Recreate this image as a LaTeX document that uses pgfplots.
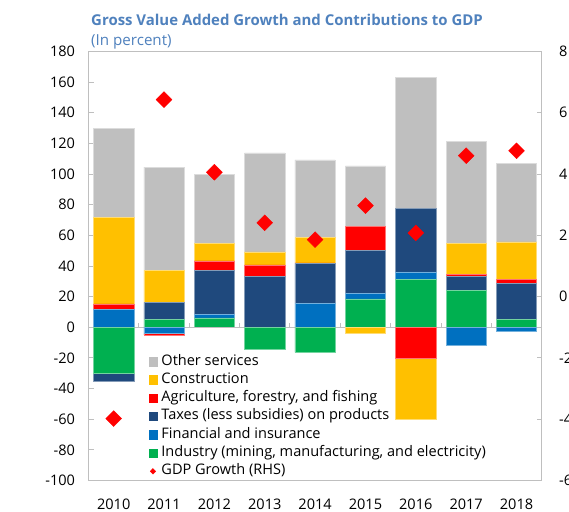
\documentclass[border=0pt]{standalone}
\usepackage{pgfplots}
\pgfplotsset{compat=1.18}
\usepackage{pgfplotstable}
\usepackage{fontspec}
\setmainfont{Open Sans}

\definecolor{cOther}{RGB}{191,191,191}
\definecolor{cCons}{RGB}{255,192,0}
\definecolor{cAgri}{RGB}{255,0,0}
\definecolor{cTax}{RGB}{31,73,125}
\definecolor{cFin}{RGB}{0,112,192}
\definecolor{cInd}{RGB}{0,176,80}
\definecolor{cTitle}{RGB}{79,129,189}
\definecolor{cAxis}{RGB}{191,191,191}

\pgfplotstableread{
x ind fin tax agri cons oth
0 0 11.6 0 3.7 56.4 58.3
1 5.1 0 11.1 0 20.9 67.4
2 6.2 2.0 28.9 6.3 11.3 45.3
3 0 0 33.4 7.4 8.5 64.6
4 0 15.8 25.8 0.5 16.5 50.7
5 18.6 3.7 28.1 15.7 0 39.3
6 31.2 5.0 41.2 0 0 85.6
7 24.3 0 8.9 1.3 20.2 66.6
8 5.3 0 23.3 2.9 24.3 51.4
}\postab

\pgfplotstableread{
x ind fin tax agri cons
0 -30.2 0 -4.7 0 0
1 0 -4.2 0 -0.7 0
2 0 0 0 0 0
3 -14.3 0 0 0 0
4 -16.4 0 0 0 0
5 0 0 0 0 -4.0
6 0 0 0 -20.2 -39.7
7 0 -11.4 0 0 0
8 0 -2.9 0 0 0
}\negtab

\pgfplotstableread{
x gdp
0 -3.98
1 6.43
2 4.06
3 2.41
4 1.86
5 2.97
6 2.08
7 4.60
8 4.76
}\gdptab

\pgfplotsset{
  base/.style={scale only axis, width=453.2bp, height=429bp,
    at={(88.5bp,-480.5bp)}, anchor=south west, xmin=-0.5, xmax=8.5,
    tick label style={font=\fontsize{14.6}{17}\selectfont},
    axis line style={draw=cAxis, line width=0.9bp},
    tick style={draw=cAxis, line width=0.9bp},
    tick align=inside, major tick length=5bp},
  seg/.style={fill=#1, draw=#1!55!white, line width=0.5bp},
}

\begin{document}
\begin{tikzpicture}
\useasboundingbox (0,0) rectangle (569bp,-512bp);

% positive contributions
\begin{axis}[base, ymin=-100, ymax=180, ybar stacked, bar width=0.8,
  ytick={-100,-80,...,180},
  yticklabels={-100,-80,-60,-40,-20,0,20,40,60,80,100,120,140,160,180},
  ytick pos=left,
  yticklabel style={xshift=-10bp},
  xtick={0,...,8},
  xticklabels={2010,2011,2012,2013,2014,2015,2016,2017,2018},
  x tick style={draw=none},
  xtick pos=bottom,
  xticklabel style={yshift=-15bp}]
\addplot[seg=cInd] table[x=x,y=ind]{\postab};
\addplot[seg=cFin] table[x=x,y=fin]{\postab};
\addplot[seg=cTax] table[x=x,y=tax]{\postab};
\addplot[seg=cAgri] table[x=x,y=agri]{\postab};
\addplot[seg=cCons] table[x=x,y=cons]{\postab};
\addplot[seg=cOther] table[x=x,y=oth]{\postab};
\end{axis}

% negative contributions
\begin{axis}[base, ymin=-100, ymax=180, ybar stacked, bar width=0.8, hide axis]
\addplot[seg=cInd] table[x=x,y=ind]{\negtab};
\addplot[seg=cFin] table[x=x,y=fin]{\negtab};
\addplot[seg=cTax] table[x=x,y=tax]{\negtab};
\addplot[seg=cAgri] table[x=x,y=agri]{\negtab};
\addplot[seg=cCons] table[x=x,y=cons]{\negtab};
\draw[cAxis, line width=0.9bp] (axis cs:-0.5,0) -- (axis cs:8.5,0);
\draw[cAxis, line width=0.9bp] (axis cs:0.5,0) -- ++(0pt,4bp);
\draw[cAxis, line width=0.9bp] (axis cs:1.5,0) -- ++(0pt,4bp);
\draw[cAxis, line width=0.9bp] (axis cs:2.5,0) -- ++(0pt,4bp);
\draw[cAxis, line width=0.9bp] (axis cs:3.5,0) -- ++(0pt,4bp);
\draw[cAxis, line width=0.9bp] (axis cs:4.5,0) -- ++(0pt,4bp);
\draw[cAxis, line width=0.9bp] (axis cs:5.5,0) -- ++(0pt,4bp);
\draw[cAxis, line width=0.9bp] (axis cs:6.5,0) -- ++(0pt,4bp);
\draw[cAxis, line width=0.9bp] (axis cs:7.5,0) -- ++(0pt,4bp);
\end{axis}

% GDP growth (RHS)
\begin{axis}[base, ymin=-6, ymax=8, axis y line*=right, axis x line=none,
  ytick={-6,-4,...,8},
  yticklabels={-6,-4,-2,0,2,4,6,8},
  yticklabel style={xshift=14bp},
  legend cell align=left,
  legend style={draw=none, fill=none, at={(0.132,0.2965)}, anchor=north west,
    font=\fontsize{14.6}{17}\selectfont, inner sep=0pt, row sep=2.3bp,
    nodes={inner sep=1bp, text height=10.5bp, text depth=3.5bp}}]
\addlegendimage{legend image code/.code={\fill[cOther] (0bp,-4.25bp) rectangle (8.5bp,4.25bp); \path (11.5bp,0bp);}}
\addlegendentry{Other services}
\addlegendimage{legend image code/.code={\fill[cCons] (0bp,-4.25bp) rectangle (8.5bp,4.25bp); \path (11.5bp,0bp);}}
\addlegendentry{Construction}
\addlegendimage{legend image code/.code={\fill[cAgri] (0bp,-4.25bp) rectangle (8.5bp,4.25bp); \path (11.5bp,0bp);}}
\addlegendentry{Agriculture, forestry, and fishing}
\addlegendimage{legend image code/.code={\fill[cTax] (0bp,-4.25bp) rectangle (8.5bp,4.25bp); \path (11.5bp,0bp);}}
\addlegendentry{Taxes (less subsidies) on products}
\addlegendimage{legend image code/.code={\fill[cFin] (0bp,-4.25bp) rectangle (8.5bp,4.25bp); \path (11.5bp,0bp);}}
\addlegendentry{Financial and insurance}
\addlegendimage{legend image code/.code={\fill[cInd] (0bp,-4.25bp) rectangle (8.5bp,4.25bp); \path (11.5bp,0bp);}}
\addlegendentry{Industry (mining, manufacturing, and electricity)}
\addplot[only marks, mark=square*, mark size=5.6bp, color=red,
  mark options={rotate=45, fill=red, draw=none},
  legend image code/.code={\fill[red] (4.25bp,2.8bp) -- (7bp,0bp) -- (4.25bp,-2.8bp) -- (1.5bp,0bp) -- cycle; \path (0bp,0bp) (11.5bp,0bp);}]
  table[x=x,y=gdp]{\gdptab};
\addlegendentry{GDP Growth (RHS)}
\end{axis}

\node[anchor=base west, text=cTitle, inner sep=0pt,
  font=\bfseries\fontsize{15}{18}\selectfont] at (91bp,-25.7bp)
  {Gross Value Added Growth and Contributions to GDP};
\node[anchor=base west, text=cTitle, inner sep=0pt,
  font=\fontsize{15.2}{18}\selectfont] at (91bp,-45bp) {(In percent)};
\end{tikzpicture}
\end{document}
